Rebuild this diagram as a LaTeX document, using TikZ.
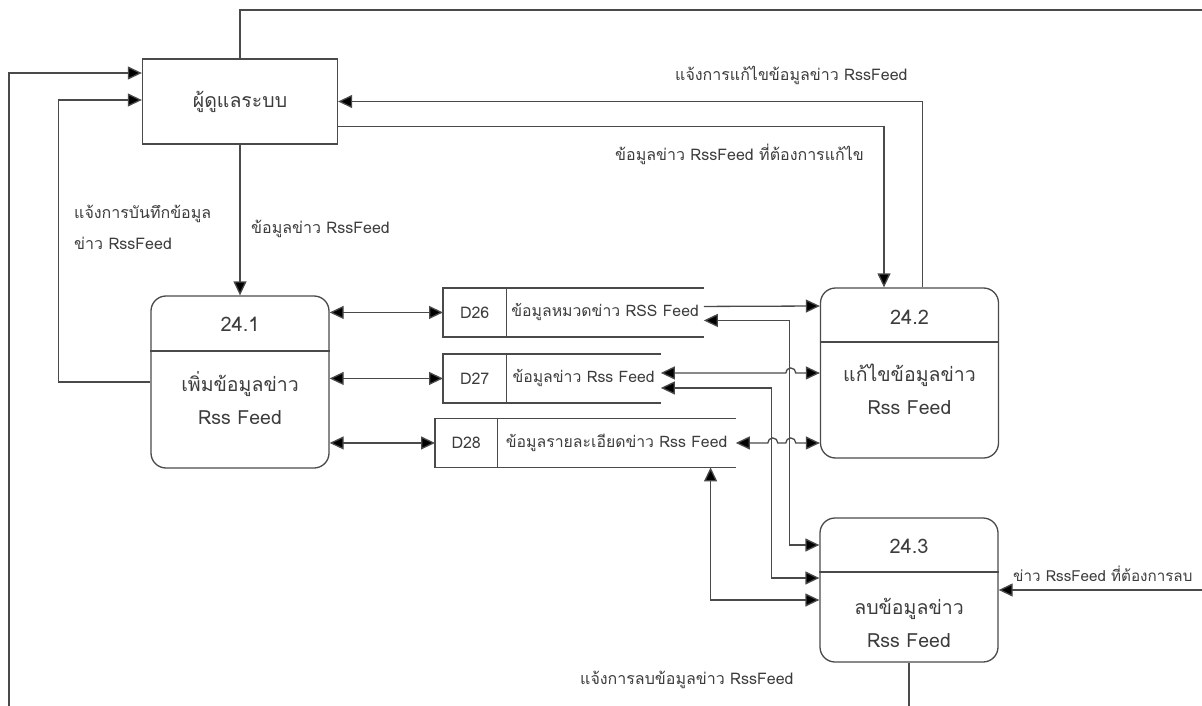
\documentclass[tikz,border=0pt]{standalone}
\usepackage{fontspec}
\usepackage{xcolor}
\usepackage{tikz}
\usetikzlibrary{arrows.meta,positioning}
\newfontfamily\thaifont[Script=Thai]{Loma}
\definecolor{ln}{HTML}{4a4a4a}
\definecolor{txt}{HTML}{3c3c3c}

\begin{document}
\begin{tikzpicture}[
    x=1pt, y=-1pt,
    entity/.style={
        rectangle, draw=ln, line width=1.3pt,
        minimum width=195pt, minimum height=85pt,
        font=\thaifont\fontsize{19.5}{22}\selectfont, text=txt
    },
    proc/.style={
        rectangle, draw=ln, rounded corners=15pt,
        minimum width=178pt, line width=1.3pt
    },
    procid/.style={font=\thaifont\fontsize{20}{22}\selectfont, text=txt},
    procname/.style={font=\thaifont\fontsize{19.5}{33}\selectfont, text=txt, align=center},
    storeid/.style={
        minimum height=48.5pt, inner sep=0pt,
        font=\thaifont\fontsize{16}{18}\selectfont, text=txt
    },
    storetxt/.style={
        minimum height=48.5pt, inner sep=0pt,
        font=\thaifont\fontsize{15.8}{18}\selectfont, text=txt
    },
    tip/.tip={Triangle[length=14pt,width=13pt,fill=black]},
    flow/.style={draw=ln, line width=1.3pt, -tip},
    both/.style={draw=ln, line width=1.3pt, tip-tip},
    lbl/.style={font=\thaifont\fontsize{16}{31}\selectfont, text=txt,
        inner sep=0pt, align=left},
]
\useasboundingbox (0,0) rectangle (1202,706);
\clip (0,0) rectangle (1202,706);

% external entity
\node[entity] (admin) at (240,101.5) {ผู้ดูแลระบบ};

% processes
\node[proc, minimum height=172] (p1) at (240,382) {};
\draw[ln, line width=1.3pt] (p1.west |- 0,351) -- (p1.east |- 0,351);
\node[procid] (p1id) at (240,324) {24.1};
\node[procname] (p1txt) at (240,398) {เพิ่มข้อมูลข่าว\\Rss Feed};

\node[proc, minimum height=170] (p2) at (909.5,373) {};
\draw[ln, line width=1.3pt] (p2.west |- 0,342) -- (p2.east |- 0,342);
\node[procid] (p2id) at (909.5,317) {24.2};
\node[procname] (p2txt) at (909.5,389) {แก้ไขข้อมูลข่าว\\Rss Feed};

\node[proc, minimum height=144] (p3) at (909,590) {};
\draw[ln, line width=1.3pt] (p3.west |- 0,572) -- (p3.east |- 0,572);
\node[procid] (p3id) at (909,546) {24.3};
\node[procname] (p3txt) at (909,623) {ลบข้อมูลข่าว\\Rss Feed};

% data stores
\node[storeid, minimum width=63, anchor=north west] (d26) at (443,288) {D26};
\node[storetxt, minimum width=197, right=0pt of d26] (d26t) {ข้อมูลหมวดข่าว RSS Feed};
\node[storeid, minimum width=63, anchor=north west] (d27) at (443,354) {D27};
\node[storetxt, minimum width=154, right=0pt of d27] (d27t) {ข้อมูลข่าว Rss Feed};
\node[storeid, minimum width=62, anchor=north west] (d28) at (435,418.5) {D28};
\node[storetxt, minimum width=238, right=0pt of d28] (d28t) {ข้อมูลรายละเอียดข่าว Rss Feed};
\foreach \s in {d26,d27,d28} {
    \draw[ln, line width=1.3pt] (\s t.north east) -- (\s.north west)
        -- (\s.south west) -- (\s t.south east);
    \draw[ln, line width=1.3pt] (\s.north east) -- (\s.south east);
}

% flows with the admin
\draw[flow] (admin.south) -- (p1.north);
\draw[flow] (p1.west) -- ++(-92,0) |- ([yshift=1.5pt]admin.west);
\draw[flow] ([yshift=-25pt]admin.east) -| ([xshift=-25.5pt]p2.north);
\draw[flow] ([xshift=13pt]p2.north) |- (admin.east);
\draw[flow] (admin.north) |- (1240,10) |- (p3.east);
\draw[flow] (p3.south) |- (9,740) |- ([yshift=28.5pt]admin.west);

% flows with the stores
\draw[both] (d26.west -| p1.east) -- (d26.west);
\draw[both] (d27.west -| p1.east) -- (d27.west);
\draw[both] (d28.west -| p1.east) -- (d28.west);

\draw[flow] ([yshift=6pt]d26t.east) -- ([yshift=67pt]p2.west);
\draw[both] ([yshift=-8pt]d26t.east) -| ([xshift=-30pt,yshift=45pt]p3.west)
    -- ([yshift=45pt]p3.west);
\draw[both] ([yshift=5.5pt]d27t.east) -- ++(125,0)
    arc[start angle=180, end angle=360, radius=5] -- (p2.west);
\draw[both] ([yshift=-9.5pt]d27t.east) -| ([xshift=-48pt,yshift=12pt]p3.west)
    -- ([yshift=12pt]p3.west);
\draw[both] (d28t.east) -- ++(32,0)
    arc[start angle=180, end angle=360, radius=5] -- ++(8,0)
    arc[start angle=180, end angle=360, radius=5] -- ([yshift=-70pt]p2.west);
\draw[both] ([xshift=94pt]d28t.south) |- ([yshift=-10pt]p3.west);

% labels
\node[lbl, anchor=west] (l1) at (251,229) {ข้อมูลข่าว RssFeed};
\node[lbl, anchor=west] (l2) at (74,227.5) {แจ้งการบันทึกข้อมูล\\ข่าว RssFeed};
\node[lbl, anchor=west] (l3) at (615,154) {ข้อมูลข่าว RssFeed ที่ต้องการแก้ไข};
\node[lbl, anchor=west] (l4) at (675,75) {แจ้งการแก้ไขข้อมูลข่าว RssFeed};
\node[lbl, anchor=west, font=\thaifont\fontsize{15.2}{31}\selectfont] (l5)
    at (1013,574) {ข่าว RssFeed ที่ต้องการลบ};
\node[lbl, anchor=west] (l6) at (580,680) {แจ้งการลบข้อมูลข่าว RssFeed};

\end{tikzpicture}
\end{document}
